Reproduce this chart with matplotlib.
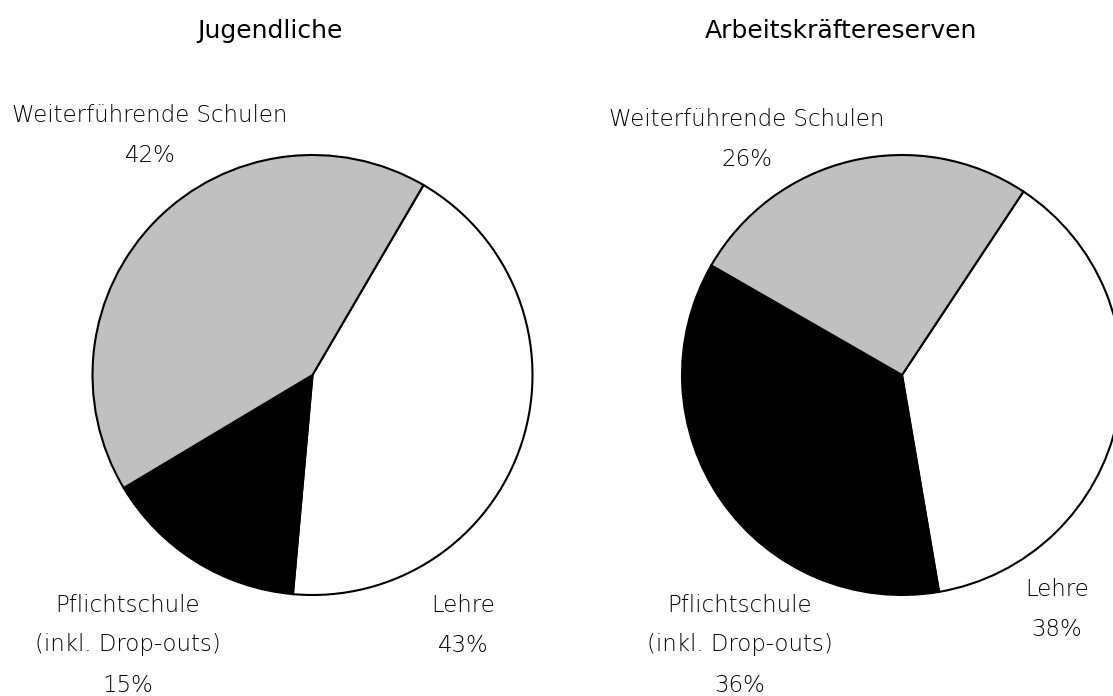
"""Zwei Kreisdiagramme: Ausbildung von Jugendlichen vs. Arbeitskräftereserven."""

import matplotlib

matplotlib.use("Agg")
import matplotlib.pyplot as plt  # noqa: E402

categories = ["Lehre", "Pflichtschule\n(inkl. Drop-outs)", "Weiterführende Schulen"]
colors = ["white", "black", "#c0c0c0"]

titles = ["Jugendliche", "Arbeitskräftereserven"]
shares_youth = [43, 15, 42]
shares_reserve = [38, 36, 26]
start_angles = [59.7, 56.5]

W, H = 1113, 696
plt.rcParams["font.family"] = ["DejaVu Sans"]

fig = plt.figure(figsize=(W / 100, H / 100), dpi=100)
ax = fig.add_axes([0, 0, 1, 1])

# pixel layout: pie centres, title x, label anchor points (x, y of first line)
centres = [(312.5, H - 375), (902, H - 375)]
title_x = [270, 841]
label_pos = [
    {0: (463, 605), 1: (128, 605), 2: (150, 115)},
    {0: (1057, 590), 1: (740, 605), 2: (747, 120)},
]

for i, shares in enumerate([shares_youth, shares_reserve]):
    ax.pie(shares, colors=colors, startangle=start_angles[i], counterclock=False,
           center=centres[i], radius=220, frame=True,
           wedgeprops=dict(edgecolor="black", linewidth=1.5))
    ax.text(title_x[i], H - 31, titles[i], ha="center", va="center",
            fontsize=18)
    for k, cat in enumerate(categories):
        x, y = label_pos[i][k]
        lines = cat.split("\n") + [f"{shares[k]}%"]
        for j, line in enumerate(lines):
            ax.text(x, H - (y + 40 * j), line, ha="center", va="center",
                    fontsize=16.5, fontweight="light", color="black")

ax.set_xlim(0, W)
ax.set_ylim(0, H)
ax.set_aspect("equal")
ax.axis("off")
fig.savefig("out.png", dpi=100)
